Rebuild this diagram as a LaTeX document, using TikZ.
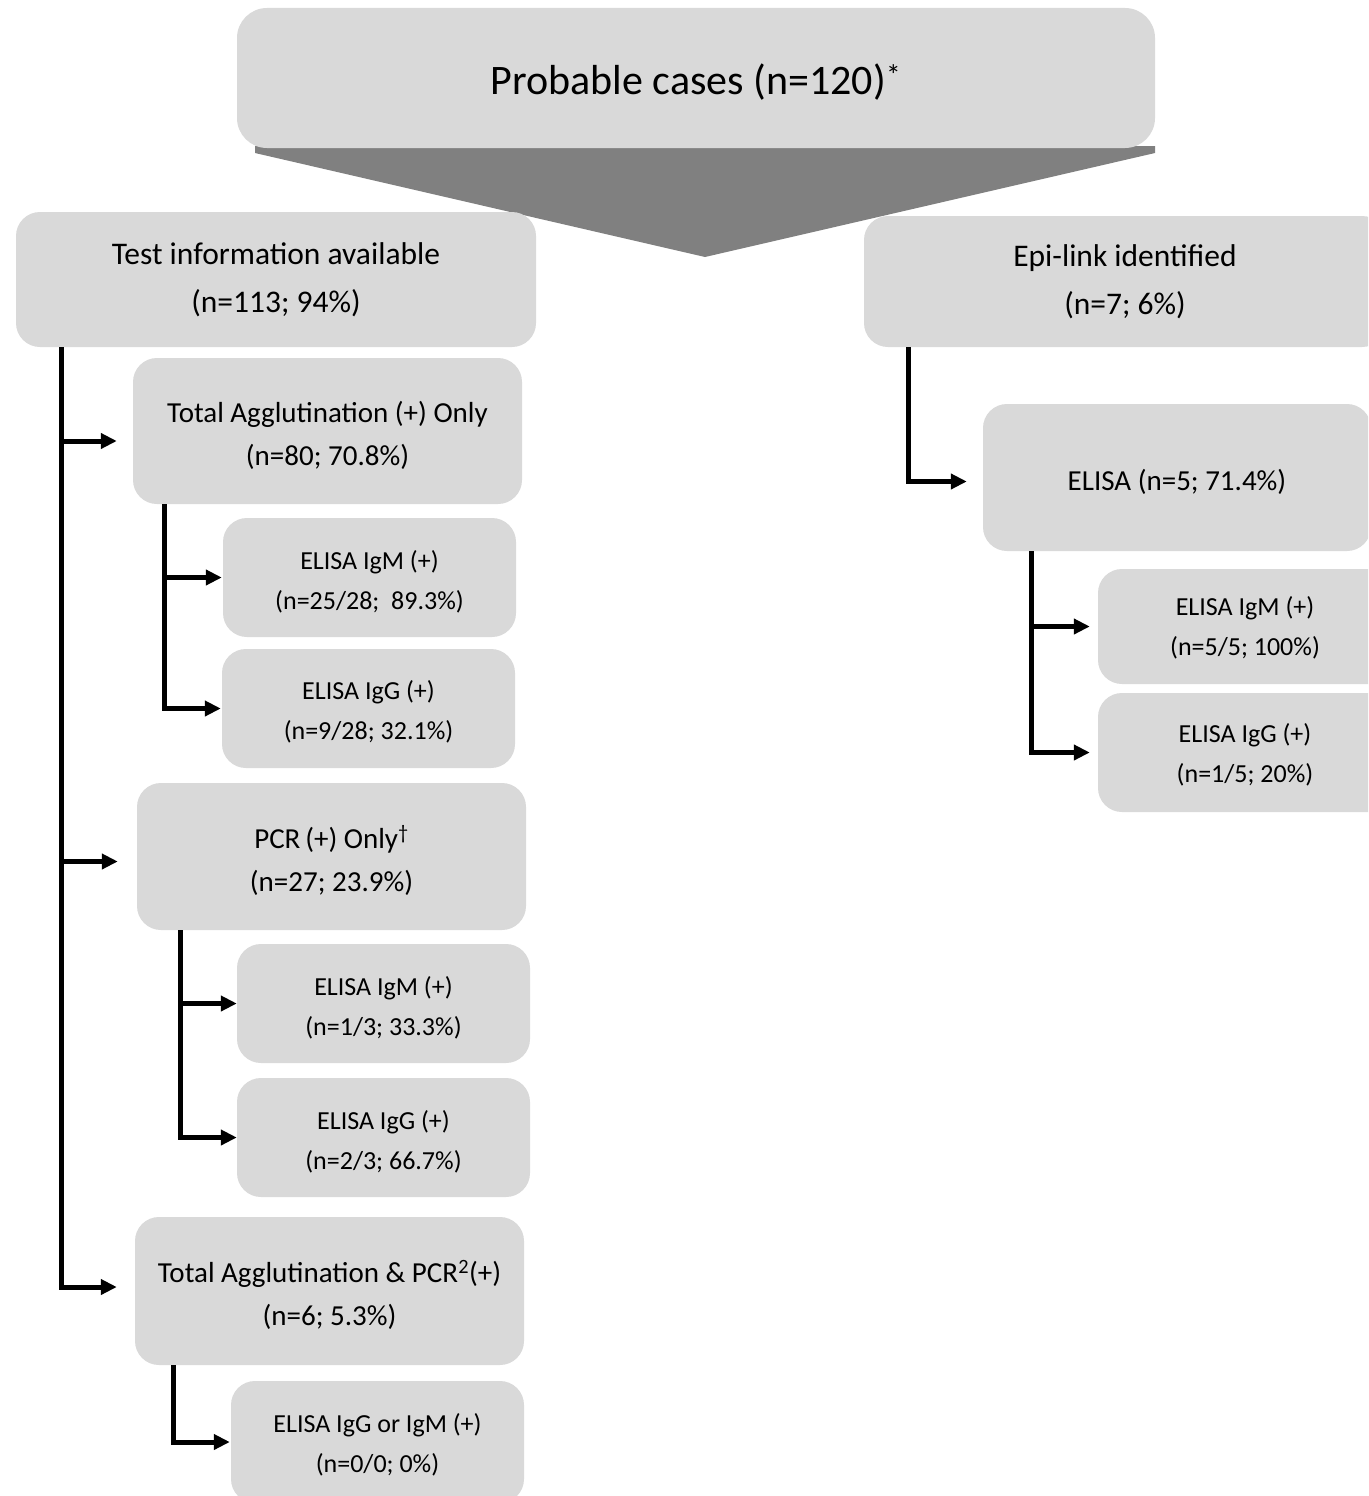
\documentclass[tikz,border=0pt]{standalone}
\usepackage{fontspec}
\setmainfont{Carlito}
\usetikzlibrary{arrows.meta}
\definecolor{boxgray}{HTML}{D9D9D9}
\definecolor{trigray}{HTML}{808080}
\tikzset{
  box/.style={fill=boxgray, rounded corners=24pt, inner sep=0pt},
  txt/.style={align=center, inner sep=0pt},
  lvltop/.style={txt, font=\fontsize{42}{50}\selectfont},
  lvlone/.style={txt, font=\fontsize{31.5}{48}\selectfont},
  lvltwo/.style={txt, font=\fontsize{29}{43}\selectfont},
  lvlthree/.style={txt, font=\fontsize{26}{40}\selectfont},
  conn/.style={line width=5pt, -{Triangle[length=16pt,width=15pt]}},
}
\begin{document}
\begin{tikzpicture}[x=1pt,y=-1pt]
\clip (0,0) rectangle (1368,1496);
\fill[white] (0,0) rectangle (1368,1496);
% big down arrow
\fill[trigray] (255,146) -- (1155,146) -- (1155,153) -- (705,257) -- (255,153) -- cycle;
% boxes
\node[box, rounded corners=30pt, minimum width=918pt, minimum height=140pt] (top) at (696,78) {};
\node[box, minimum width=520pt, minimum height=135pt] (test) at (276,279.5) {};
\node[box, minimum width=522pt, minimum height=131pt] (epi) at (1125,281.5) {};
\node[box, minimum width=389pt, minimum height=146pt] (ta) at (327.5,431) {};
\node[box, minimum width=293pt, minimum height=119pt] (igmA) at (369.5,577.5) {};
\node[box, minimum width=293pt, minimum height=119pt] (iggA) at (368.5,708.5) {};
\node[box, minimum width=389pt, minimum height=147pt] (pcr) at (331.5,856.5) {};
\node[box, minimum width=293pt, minimum height=119pt] (igmB) at (383.5,1003.5) {};
\node[box, minimum width=293pt, minimum height=119pt] (iggB) at (383.5,1137.5) {};
\node[box, minimum width=389pt, minimum height=148pt] (tapcr) at (329.5,1291) {};
\node[box, minimum width=293pt, minimum height=122pt] (igC) at (377.5,1442) {};
\node[box, minimum width=388pt, minimum height=147pt] (elisa) at (1177,477.5) {};
\node[box, minimum width=294pt, minimum height=115pt] (igmR) at (1245,626.5) {};
\node[box, minimum width=294pt, minimum height=119pt] (iggR) at (1245,752.5) {};
% texts
\node[lvltop] (top-t) at ([yshift=-4pt]top.center) {Probable cases (n=120)\textsuperscript{*}};
\node[lvlone] (test-t) at (test.center) {Test information available\\(n=113; 94\%)};
\node[lvlone] (epi-t) at (epi.center) {Epi-link identified\\(n=7; 6\%)};
\node[lvltwo] (ta-t) at ([yshift=-4pt]ta.center) {Total Agglutination (+) Only\\(n=80; 70.8\%)};
\node[lvlthree] (igmA-t) at ([yshift=-4pt]igmA.center) {ELISA IgM (+)\\(n=25/28;\ \ 89.3\%)};
\node[lvlthree] (iggA-t) at ([yshift=-3pt]iggA.center) {ELISA IgG (+)\\(n=9/28; 32.1\%)};
\node[lvltwo] (pcr-t) at ([yshift=-4pt]pcr.center) {PCR\,(+) Only\textsuperscript{\dag}\\(n=27; 23.9\%)};
\node[lvlthree] (igmB-t) at ([yshift=-4pt]igmB.center) {ELISA IgM (+)\\(n=1/3; 33.3\%)};
\node[lvlthree] (iggB-t) at ([yshift=-4pt]iggB.center) {ELISA IgG (+)\\(n=2/3; 66.7\%)};
\node[lvltwo] (tapcr-t) at ([yshift=-4pt]tapcr.center) {Total Agglutination \& PCR\textsuperscript{2}(+)\\(n=6; 5.3\%)};
\node[lvlthree] (igC-t) at ([yshift=-3pt]igC.center) {ELISA IgG or IgM (+)\\(n=0/0; 0\%)};
\node[lvltwo] (elisa-t) at ([yshift=-4pt]elisa.center) {ELISA (n=5; 71.4\%)};
\node[lvlthree] (igmR-t) at ([yshift=-1pt]igmR.center) {ELISA IgM (+)\\(n=5/5; 100\%)};
\node[lvlthree] (iggR-t) at ([yshift=-2pt]iggR.center) {ELISA IgG (+)\\(n=1/5; 20\%)};
% connectors: test information branch
\draw[conn, shorten >=16pt] ([xshift=46pt]test.south west) |- ([yshift=-10pt]ta.west);
\draw[conn, shorten >=19pt] ([xshift=46pt]test.south west) |- ([yshift=-5pt]pcr.west);
\draw[conn, shorten >=18pt] ([xshift=46pt]test.south west) |- ([yshift=4pt]tapcr.west);
\draw[conn, shorten >=1pt] ([xshift=32pt]ta.south west) |- (igmA.west);
\draw[conn, shorten >=1pt] ([xshift=32pt]ta.south west) |- (iggA.west);
\draw[conn, shorten >=0pt] ([xshift=44pt]pcr.south west) |- (igmB.west);
\draw[conn, shorten >=0pt] ([xshift=44pt]pcr.south west) |- (iggB.west);
\draw[conn, shorten >=1pt] ([xshift=39pt]tapcr.south west) |- (igC.west);
% connectors: epi-link branch
\draw[conn, shorten >=16pt] ([xshift=45pt]epi.south west) |- ([yshift=-4pt]elisa.west);
\draw[conn, shorten >=8pt] ([xshift=49pt]elisa.south west) |- (igmR.west);
\draw[conn, shorten >=8pt] ([xshift=49pt]elisa.south west) |- (iggR.west);
\end{tikzpicture}
\end{document}
